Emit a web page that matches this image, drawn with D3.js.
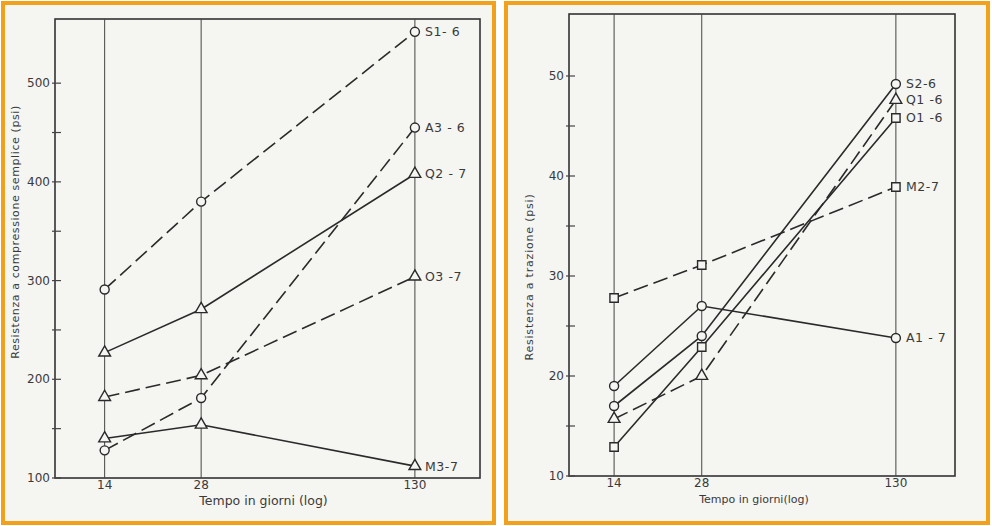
<!DOCTYPE html>
<head>
  <meta charset="utf-8">
  <style>
    body { margin: 0; background: #fff; }
    text { font-family: "DejaVu Sans", sans-serif; fill: #3a3a3a; }
  </style>
</head>
<body>
  <svg width="992" height="526"></svg>
  <script src="https://d3js.org/d3.v7.min.js"></script>
  <script>

  // days (log scale)
  var days = [14, 28, 130];

  // compression strength, psi
  var compSeries = ["S1- 6", "A3 - 6", "Q2 - 7", "O3 -7", "M3-7"];
  var compValues = [
    [291, 380, 552],
    [128, 181, 455],
    [227, 271, 408],
    [182, 204, 304],
    [140, 154, 112]
  ];
  var compDashed = [true, true, false, true, false];
  var compMarker = ["circle", "circle", "triangle", "triangle", "triangle"];
  var compTicks = [100, 200, 300, 400, 500];
  var compMinor = [150, 250, 350, 450];

  // tensile strength, psi
  var tensSeries = ["S2-6", "Q1 -6", "O1 -6", "M2-7", "A1 - 7"];
  var tensValues = [
    [17, 24, 49.2],
    [15.7, 20, 47.6],
    [12.9, 22.9, 45.8],
    [27.8, 31.1, 38.9],
    [19, 27, 23.8]
  ];
  var tensDashed = [false, true, false, true, false];
  var tensMarker = ["circle", "triangle", "square", "square", "circle"];
  var tensTicks = [10, 20, 30, 40, 50];
  var tensMinor = [15, 25, 35, 45];

  var svg = d3.select("svg");
  var paper = "#f5f5f2", ink = "#2a2a2a";

  function panel(opt) {
    var g = svg.append("g");
    g.append("rect")
      .attr("x", opt.box[0]).attr("y", opt.box[1])
      .attr("width", opt.box[2]).attr("height", opt.box[3])
      .attr("fill", paper).attr("stroke", "#f2a11c").attr("stroke-width", 4);

    var x = d3.scaleLog().domain([9.8, 207.5]).range([opt.left, opt.right]);
    var y = d3.scaleLinear().domain(opt.yDomain).range([opt.bottom, opt.top]);

    // frame
    g.append("rect")
      .attr("x", opt.left).attr("y", opt.top)
      .attr("width", opt.right - opt.left).attr("height", opt.bottom - opt.top)
      .attr("fill", "none").attr("stroke", "#333").attr("stroke-width", 1.6);

    // vertical day lines
    g.selectAll(".vl").data(days).enter().append("line")
      .attr("x1", d => x(d)).attr("x2", d => x(d))
      .attr("y1", opt.top).attr("y2", opt.bottom)
      .attr("stroke", "#444").attr("stroke-width", 1);

    // y ticks
    g.selectAll(".yt").data(opt.ticks.concat(opt.minor)).enter().append("line")
      .attr("x1", opt.left - 3).attr("x2", opt.left + 6)
      .attr("y1", d => y(d)).attr("y2", d => y(d))
      .attr("stroke", "#444").attr("stroke-width", 1.2);
    g.selectAll(".yl").data(opt.ticks).enter().append("text")
      .attr("x", opt.left - 5).attr("y", d => y(d)).attr("dy", "0.35em")
      .attr("text-anchor", "end").attr("font-size", 12)
      .text(d => d);

    // x tick labels
    g.selectAll(".xl").data(days).enter().append("text")
      .attr("x", d => x(d)).attr("y", opt.bottom + 11)
      .attr("text-anchor", "middle").attr("font-size", 12)
      .text(d => d);

    g.append("text")
      .attr("x", (opt.left + opt.right) / 2 - opt.xTitleShift).attr("y", opt.bottom + 27)
      .attr("text-anchor", "middle").attr("font-size", opt.xTitleSize)
      .text(opt.xTitle);
    g.append("text")
      .attr("transform", "translate(" + opt.yTitlePos + ") rotate(-90)")
      .attr("text-anchor", "middle").attr("font-size", 11).attr("letter-spacing", opt.yTitleSpacing)
      .text(opt.yTitle);

    var line = d3.line().x((d, i) => x(days[i])).y(d => y(d));

    opt.values.forEach(function(vals, s) {
      g.append("path")
        .attr("d", line(vals))
        .attr("fill", "none").attr("stroke", ink).attr("stroke-width", 1.6)
        .attr("stroke-dasharray", opt.dashed[s] ? "15,6" : null);

      var sym = opt.marker[s] === "circle" ? d3.symbolCircle :
                opt.marker[s] === "triangle" ? d3.symbolTriangle : d3.symbolSquare;
      var size = opt.marker[s] === "circle" ? 64 : opt.marker[s] === "triangle" ? 60 : 70;
      g.selectAll(null).data(vals).enter().append("path")
        .attr("d", d3.symbol().type(sym).size(size))
        .attr("transform", (d, i) => "translate(" + x(days[i]) + "," + y(d) + ")")
        .attr("fill", paper).attr("stroke", ink).attr("stroke-width", 1.4);

      g.append("text")
        .attr("x", x(days[2]) + 10).attr("y", y(vals[2])).attr("dy", "0.35em")
        .attr("font-size", 12.5).attr("letter-spacing", 0.6)
        .text(opt.names[s]);
    });
  }

  panel({
    box: [3, 3, 491, 520],
    left: 55, right: 480, top: 19, bottom: 478,
    yDomain: [100, 565],
    ticks: compTicks, minor: compMinor,
    values: compValues, names: compSeries, dashed: compDashed, marker: compMarker,
    xTitle: "Tempo in giorni (log)", xTitleShift: 4, xTitleSize: 12.5,
    yTitle: "Resistenza a compressione semplice (psi)", yTitlePos: "19,232", yTitleSpacing: 0.6
  });

  panel({
    box: [506, 3, 482, 520],
    left: 569, right: 955, top: 14, bottom: 476,
    yDomain: [10, 56.2],
    ticks: tensTicks, minor: tensMinor,
    values: tensValues, names: tensSeries, dashed: tensDashed, marker: tensMarker,
    xTitle: "Tempo in giorni(log)", xTitleShift: 8, xTitleSize: 11,
    yTitle: "Resistenza a trazione (psi)", yTitlePos: "533,277", yTitleSpacing: 0.8
  });

  </script>
</body>
</html>
